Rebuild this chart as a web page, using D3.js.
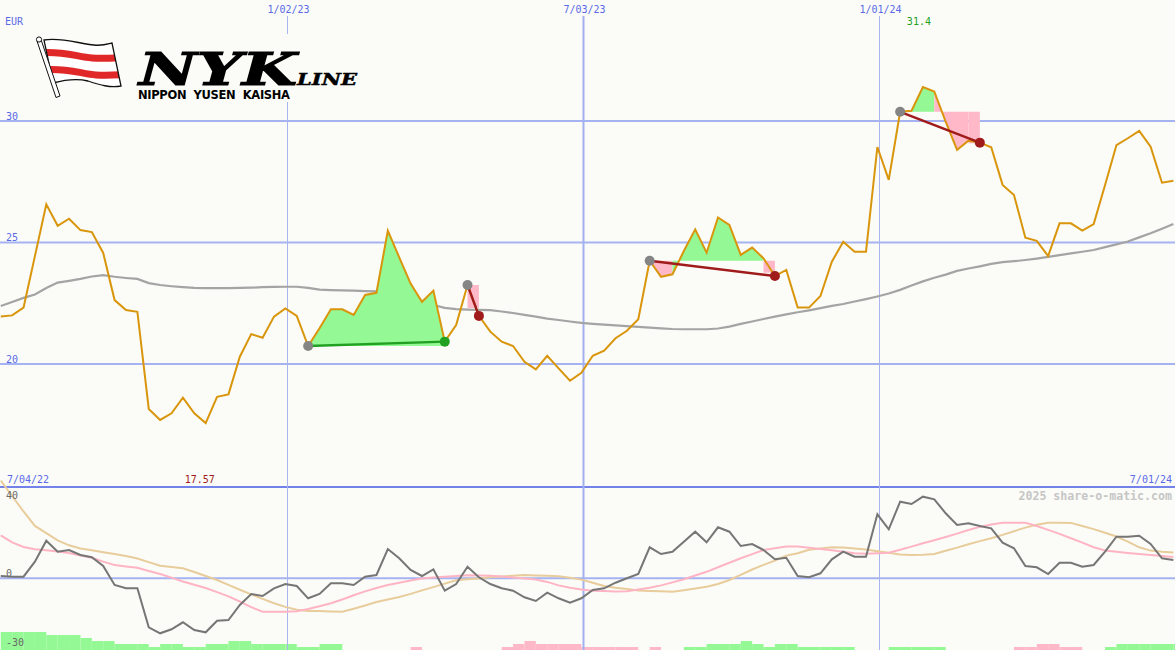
<!DOCTYPE html>
<html><head><meta charset="utf-8">
<script src="https://cdn.jsdelivr.net/npm/d3@7"></script>
<style>
html,body{margin:0;padding:0;background:#fbfcf7;}
svg{display:block;}
</style></head><body>
<svg id="c" width="1175" height="650"></svg>
<script>
// ---------- data ----------
const currency = "EUR";
const firstWeek = "2022-07-10";
const axisStart = "2022-07-04", axisEnd = "2024-07-01";
const rangeLabels = ["7/04/22", "7/01/24"];
const dateTicks = ["2023-01-02", "2023-07-03", "2024-01-01"];
const dateTickLabels = ["1/02/23", "7/03/23", "1/01/24"];
const priceTicks = [20, 25, 30];
const oscTicks = [40, 0, -30];
const watermark = "2025 share-o-matic.com";

const price = [21.95, 22.00, 22.32, 24.44, 26.57, 25.69, 25.98, 25.51, 25.43, 24.57,
 22.63, 22.22, 22.15, 18.15, 17.70, 17.97, 18.61, 17.97, 17.57, 18.65,
 18.75, 20.30, 21.23, 21.08, 21.95, 22.29, 21.98, 20.74, 21.47, 22.25,
 22.25, 22.02, 22.84, 22.93, 25.49, 24.39, 23.31, 22.56, 23.02, 20.92,
 21.60, 23.25, 21.98, 21.33, 20.92, 20.74, 20.09, 19.78, 20.34, 19.82,
 19.31, 19.64, 20.34, 20.55, 21.06, 21.37, 21.84, 24.25, 23.59, 23.69,
 24.65, 25.54, 24.58, 26.03, 25.72, 24.49, 24.79, 24.35, 23.62, 23.87,
 22.32, 22.32, 22.80, 24.21, 25.03, 24.62, 24.62, 28.93, 27.58, 30.38,
 30.42, 31.40, 31.21, 29.97, 28.81, 29.19, 29.11, 28.92, 27.37, 26.95,
 25.20, 25.07, 24.44, 25.79, 25.79, 25.49, 25.76, 27.37, 29.01, 29.29,
 29.59, 28.94, 27.46, 27.54];

const movingAvg = [22.39, 22.55, 22.72, 22.86, 23.13, 23.35, 23.42, 23.50, 23.60, 23.66,
 23.59, 23.54, 23.50, 23.33, 23.25, 23.20, 23.16, 23.13, 23.12, 23.12,
 23.12, 23.13, 23.14, 23.16, 23.17, 23.18, 23.18, 23.13, 23.06, 23.04,
 23.03, 23.02, 23.00, 22.99, 22.98, 22.88, 22.74, 22.59, 22.43, 22.31,
 22.26, 22.24, 22.23, 22.22, 22.16, 22.10, 22.02, 21.95, 21.87, 21.81,
 21.75, 21.69, 21.65, 21.62, 21.59, 21.56, 21.53, 21.50, 21.47, 21.44,
 21.43, 21.43, 21.43, 21.46, 21.54, 21.65, 21.75, 21.85, 21.95, 22.04,
 22.13, 22.21, 22.30, 22.39, 22.47, 22.57, 22.67, 22.78, 22.90, 23.05,
 23.23, 23.40, 23.55, 23.68, 23.83, 23.93, 24.02, 24.12, 24.19, 24.23,
 24.28, 24.34, 24.41, 24.48, 24.55, 24.62, 24.69, 24.81, 24.92, 25.04,
 25.21, 25.38, 25.57, 25.76];

const momentum = [1.18, 0.82, 0.82, 8.51, 19.28, 13.64, 14.51, 11.95, 10.77, 6.31,
 -3.44, -5.13, -5.13, -25.13, -28.21, -26.15, -22.56, -26.51, -27.69, -21.74,
 -21.38, -13.69, -8.05, -9.08, -5.13, -2.92, -3.95, -10.26, -8.05, -2.56,
 -2.56, -3.44, 0.82, 1.69, 15.03, 10.26, 4.26, 1.18, 4.62, -6.36,
 -2.92, 5.95, 0.51, -2.92, -5.13, -6.36, -9.74, -11.64, -7.38, -10.26,
 -12.51, -10.26, -6.00, -5.13, -2.26, 0.00, 2.21, 15.90, 12.46, 13.64,
 18.77, 23.90, 18.46, 26.15, 23.90, 16.56, 17.59, 14.51, 9.74, 10.51,
 1.18, 0.51, 2.56, 9.74, 13.64, 11.08, 11.08, 32.82, 25.13, 39.28,
 38.10, 41.85, 40.51, 33.33, 27.33, 28.21, 26.82, 25.64, 18.26, 15.38,
 6.31, 5.64, 2.21, 8.00, 8.00, 5.95, 6.82, 13.64, 21.33, 21.33,
 21.85, 17.59, 10.26, 9.38];

const fastAvg = [22.05, 18.41, 16.05, 14.92, 14.36, 13.69, 12.97, 11.74, 10.51, 8.56,
 6.77, 6.10, 5.38, 3.74, 2.21, 0.36, -1.64, -3.28, -4.97, -7.08,
 -9.28, -11.90, -14.82, -17.13, -17.13, -17.13, -16.87, -15.74, -14.31, -12.82,
 -10.87, -8.72, -6.72, -4.97, -3.44, -2.26, -1.18, -0.15, 0.36, 0.77,
 1.18, 1.54, 1.44, 1.28, 0.97, 0.46, -0.05, -0.67, -1.85, -3.64,
 -4.82, -5.69, -6.41, -6.56, -6.77, -6.62, -5.74, -4.87, -3.64, -2.10,
 -0.46, 1.44, 3.33, 5.69, 8.00, 10.31, 12.41, 14.51, 15.38, 16.26,
 16.31, 15.69, 15.08, 14.41, 13.64, 12.82, 12.62, 12.87, 13.08, 14.62,
 16.26, 17.95, 19.54, 21.18, 22.92, 24.77, 26.36, 27.54, 28.51, 28.51,
 28.51, 26.82, 24.82, 22.77, 20.56, 18.31, 15.90, 14.26, 13.59, 12.97,
 12.41, 11.90, 11.38, 10.87];

const slowAvg = [50.05, 42.21, 34.26, 26.87, 23.18, 19.49, 16.92, 15.33, 14.36, 13.38,
 12.41, 11.44, 10.15, 8.31, 6.46, 5.79, 5.13, 3.23, 1.18, -0.87,
 -3.38, -5.85, -8.26, -10.56, -12.77, -14.67, -16.15, -16.72, -16.82, -16.97,
 -17.13, -15.64, -13.95, -12.15, -10.87, -9.59, -8.00, -6.21, -4.51, -2.72,
 -1.03, -0.51, -0.05, 0.51, 0.92, 1.33, 1.69, 1.49, 1.33, 1.03,
 0.26, -0.67, -2.31, -3.95, -4.87, -5.54, -6.26, -6.46, -6.67, -6.87,
 -6.15, -5.23, -4.31, -2.92, -0.87, 1.79, 4.51, 6.87, 9.03, 11.64,
 12.82, 14.67, 15.28, 15.95, 15.85, 15.33, 14.72, 13.90, 13.08, 12.21,
 11.95, 12.10, 12.46, 14.15, 15.74, 17.49, 19.08, 20.51, 22.26, 24.15,
 26.00, 27.44, 28.51, 28.51, 28.41, 26.82, 25.23, 23.38, 21.44, 18.77,
 15.90, 14.21, 13.59, 13.18];

// signal strength bars (+ green, - pink)
const signal = [6,6,6,6,5,5,5,4,3,3,
 2,2,2,1,2,2,1,1,2,2,
 3,3,2,2,2,2,1,1,2,2,
 0,0,0,0,0,0,-1,0,0,0,
 0,0,0,0,-1,-2,-3,-2,-2,-2,
 -2,-1,-1,-1,-1,-1,0,-1,0,0,
 1,1,2,2,2,3,2,1,2,2,
 1,1,1,1,1,0,0,0,1,1,
 1,1,1,0,0,0,0,0,0,-1,
 -1,-2,-2,-1,-1,0,0,1,2,2,
 2,2,2,2];

const tradeEntry = [27, 41, 57, 79];
const tradeExit = [39, 42, 68, 86];
const tradeStop = [null, 22.30, 23.76, 29.08];

// ---------- setup ----------
const W = 1175, H = 650;
const bg = "#fbfcf7";
const blue = "#5a6ae8", gridC = "#a6b3f2";
const greenFill = "#94f894", pinkFill = "#ffb8c8";
const svg = d3.select("#c");
svg.append("rect").attr("width", W).attr("height", H).attr("fill", bg);

const parse = d3.utcParse("%Y-%m-%d");
const dates = price.map((_, i) => d3.utcDay.offset(parse(firstWeek), 7 * i));
const x = d3.scaleUtc().domain([parse(axisStart), parse(axisEnd)]).range([-9, W]);
const y = d3.scaleLinear().domain([20, 30]).range([364, 121]);
const yo = d3.scaleLinear().domain([0, 40]).range([578.3, 500.3]);
const yb = d3.scaleLinear().domain([0, 6]).range([650, 632]);
const mono = "DejaVu Sans Mono, monospace";

function label(txt, px, py, color, anchor, extra) {
  const t = svg.append("text").attr("x", px).attr("y", py).attr("fill", color)
    .attr("text-anchor", anchor || "start").style("font-family", mono).style("font-size", "10px").text(txt);
  if (extra) extra(t);
  return t;
}

// ---------- main grid ----------
priceTicks.forEach(v => {
  svg.append("line").attr("x1", 0).attr("x2", W).attr("y1", y(v)).attr("y2", y(v))
    .attr("stroke", gridC).attr("stroke-width", 2);
  label(String(v), 6, y(v) - 1.5, blue);
});

// ---------- lower panel frame ----------
svg.append("line").attr("x1", 0).attr("x2", W).attr("y1", 487).attr("y2", 487)
  .attr("stroke", "#7282ea").attr("stroke-width", 2);
svg.append("line").attr("x1", 0).attr("x2", W).attr("y1", yo(0)).attr("y2", yo(0))
  .attr("stroke", gridC).attr("stroke-width", 2);

// bars
signal.forEach((s, k) => {
  if (!s) return;
  const x0 = x(dates[k]);
  const x1 = x(k + 1 < dates.length ? dates[k + 1] : d3.utcDay.offset(dates[k], 7));
  svg.append("rect").attr("x", x0).attr("width", x1 - x0)
    .attr("y", yb(Math.abs(s))).attr("height", yb(0) - yb(Math.abs(s)) + 2)
    .attr("fill", s > 0 ? greenFill : pinkFill);
});

// vertical date lines
dateTicks.forEach((d, i) => {
  const dt = parse(d);
  const xx = Math.round(x(dt)) + 0.5;
  const mid = dt.getUTCMonth() === 6;
  svg.append("line").attr("x1", xx).attr("x2", xx).attr("y1", 16).attr("y2", H)
    .attr("stroke", mid ? "#a2b0f2" : "#aab4ee").attr("stroke-width", mid ? 2 : 1);
  label(dateTickLabels[i], xx + 1, 13, blue, "middle");
});

// ---------- logo ----------
const logo = svg.append("g");
logo.append("rect").attr("x", 30).attr("y", 34).attr("width", 334).attr("height", 68).attr("fill", bg);
const flagD = "M44,40 C62,37 80,44 94,45 C102,46 108,44 112,43 L121,86 C110,88 100,85 88,81 C76,78 64,80 53,83 Z";
svg.append("defs").append("clipPath").attr("id", "flagclip").append("path").attr("d", flagD);
logo.append("path").attr("d", flagD).attr("fill", "#ffffff");
const stripes = logo.append("g").attr("clip-path", "url(#flagclip)");
stripes.append("path").attr("d", "M38,53 C60,50 78,57 92,58 C104,59 112,58 132,57")
  .attr("fill", "none").attr("stroke", "#e02828").attr("stroke-width", 7);
stripes.append("path").attr("d", "M42,70 C64,67 82,74 96,75 C108,76 116,75 136,74")
  .attr("fill", "none").attr("stroke", "#e02828").attr("stroke-width", 7);
logo.append("path").attr("d", flagD).attr("fill", "none").attr("stroke", "#111").attr("stroke-width", 1.3);
logo.append("path").attr("d", "M37,41 L41,39.5 L60,96 L56,97.5 Z").attr("fill", "#fff").attr("stroke", "#111").attr("stroke-width", 1);
logo.append("circle").attr("cx", 39).attr("cy", 39.5).attr("r", 2.6).attr("fill", "#fff").attr("stroke", "#111").attr("stroke-width", 1);
logo.append("text").attr("x", 139).attr("y", 85).attr("textLength", 158).attr("lengthAdjust", "spacingAndGlyphs")
  .style("font-family", "DejaVu Serif, serif").style("font-weight", "bold").style("font-style", "italic")
  .style("font-size", "45px").attr("fill", "#000").attr("stroke", "#000").attr("stroke-width", 1.2).text("NYK");
logo.append("text").attr("x", 297).attr("y", 85).attr("textLength", 60).attr("lengthAdjust", "spacingAndGlyphs")
  .style("font-family", "DejaVu Serif, serif").style("font-weight", "bold").style("font-style", "italic")
  .style("font-size", "17px").attr("fill", "#000").attr("stroke", "#000").attr("stroke-width", 0.5).text("LINE");
logo.append("text").attr("x", 138).attr("y", 99).attr("textLength", 152).attr("lengthAdjust", "spacing")
  .style("font-family", "DejaVu Sans, sans-serif").style("font-weight", "bold").style("font-size", "11.5px")
  .style("white-space", "pre").attr("fill", "#000").text("NIPPON  YUSEN  KAISHA");

// ---------- main series ----------
const lineGen = arr => d3.line().x((d, i) => x(dates[i])).y(d => y(d))(arr);
svg.append("path").attr("d", lineGen(movingAvg)).attr("fill", "none")
  .attr("stroke", "#a4a4a4").attr("stroke-width", 2.2);

// trade fills
tradeEntry.forEach((e, t) => {
  const ex = tradeExit[t], stop = tradeStop[t];
  const L = price[e];
  const segs = [];
  for (let i = e; i < ex; i++) {
    if (stop != null && i === ex - 1) break;
    segs.push({ i, up: price[i + 1] >= L });
  }
  const runs = [];
  segs.forEach(s => {
    const last = runs[runs.length - 1];
    if (last && last.up === s.up) last.end = s.i + 1;
    else runs.push({ start: s.i, end: s.i + 1, up: s.up });
  });
  const area = d3.area().x(i => x(dates[i])).y0(y(L)).y1(i => y(price[i]));
  runs.forEach(r => {
    svg.append("path").attr("d", area(d3.range(r.start, r.end + 1)))
      .attr("fill", r.up ? greenFill : pinkFill);
  });
  if (stop != null) {
    const x0 = x(dates[ex - 1]), x1 = x(dates[ex]);
    svg.append("rect").attr("x", x0).attr("width", x1 - x0)
      .attr("y", y(L)).attr("height", y(stop) - y(L)).attr("fill", pinkFill);
  }
});

svg.append("path").attr("d", lineGen(price)).attr("fill", "none")
  .attr("stroke", "#d9950b").attr("stroke-width", 2).attr("stroke-linejoin", "miter");

tradeEntry.forEach((e, t) => {
  const ex = tradeExit[t];
  const win = price[ex] >= price[e];
  svg.append("line").attr("x1", x(dates[e])).attr("y1", y(price[e]))
    .attr("x2", x(dates[ex])).attr("y2", y(price[ex]))
    .attr("stroke", win ? "#22a022" : "#a01c1c").attr("stroke-width", 2.4);
});
tradeEntry.forEach((e, t) => {
  const ex = tradeExit[t];
  const win = price[ex] >= price[e];
  svg.append("circle").attr("cx", x(dates[e])).attr("cy", y(price[e])).attr("r", 5).attr("fill", "#858585");
  svg.append("circle").attr("cx", x(dates[ex])).attr("cy", y(price[ex])).attr("r", 5)
    .attr("fill", win ? "#22a022" : "#a01c1c");
});

// ---------- lower series ----------
const oscLine = arr => d3.line().x((d, i) => x(dates[i])).y(d => yo(d))(arr);
svg.append("path").attr("d", oscLine(slowAvg)).attr("fill", "none").attr("stroke", "#e8cc9c").attr("stroke-width", 2);
svg.append("path").attr("d", oscLine(fastAvg)).attr("fill", "none").attr("stroke", "#ffb4c4").attr("stroke-width", 2);
svg.append("path").attr("d", oscLine(momentum)).attr("fill", "none").attr("stroke", "#767676").attr("stroke-width", 2);

// ---------- labels ----------
label(currency, 5, 25, blue);
label(rangeLabels[0], 7, 482.7, blue);
label(rangeLabels[1], 1172, 482.7, blue, "end");
const iMax = d3.maxIndex(price), iMin = d3.minIndex(price);
label(String(+price[iMax].toFixed(2)), x(dates[iMax]) - 4, 25, "#22a022", "middle");
label(String(+price[iMin].toFixed(2)), x(dates[iMin]) - 6, 482.7, "#a01c1c", "middle");
const oMin = d3.min(oscTicks);
oscTicks.forEach(v => {
  label(String(v), 6, v === oMin ? yo(v) + 9.5 : yo(v) - 1.5, "#6a6a6a");
});
label(watermark, 1172, 500, "#c6c6c6", "end", t => t.style("font-size", "11.6px").style("font-weight", "bold"));
</script>
</body></html>
